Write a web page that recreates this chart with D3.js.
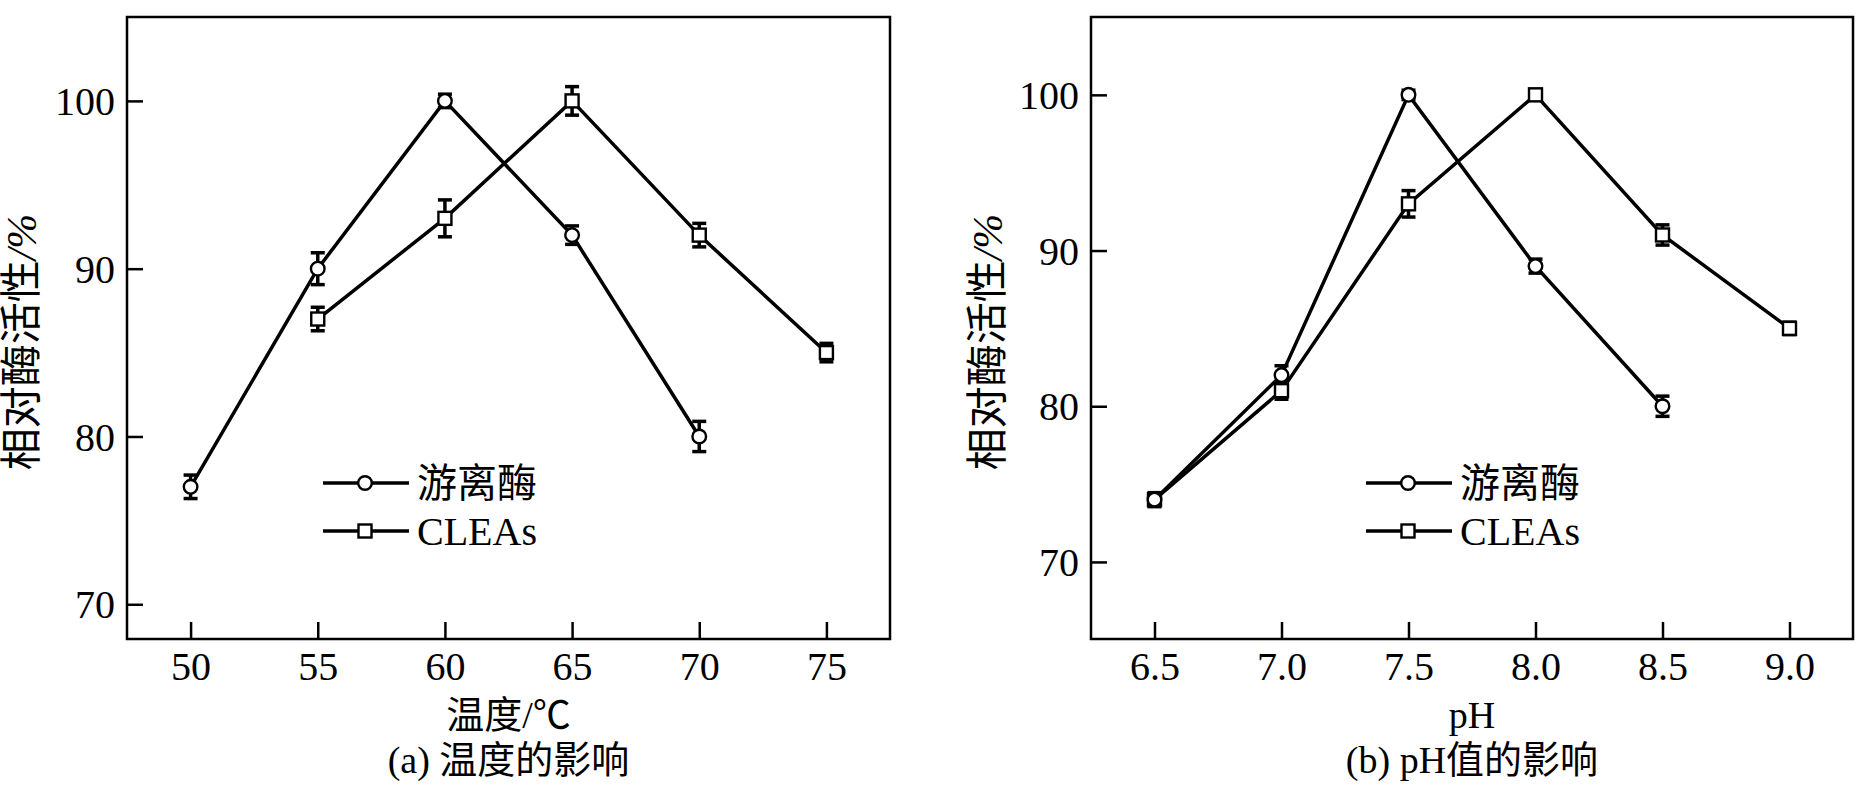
<!DOCTYPE html>
<html lang="zh">
<head>
<meta charset="UTF-8"/>
<title>温度和pH值的影响</title>
<script src="https://d3js.org/d3.v7.min.js"></script>
<style>
  body { margin: 0; background: #fff; }
  text { font-family: "Liberation Serif", "Noto Sans CJK SC", serif; fill: #000; }
</style>
</head>
<body>
<script>
// data
var yTicks = [70, 80, 90, 100];

// (a) temperature
var tempTicks = [50, 55, 60, 65, 70, 75];
var freeTempX = [50, 55, 60, 65, 70];
var freeTempY = [77, 90, 100, 92, 80];
var freeTempErr = [0.7, 0.95, 0.4, 0.55, 0.9];
var cleaTempX = [55, 60, 65, 70, 75];
var cleaTempY = [87, 93, 100, 92, 85];
var cleaTempErr = [0.7, 1.1, 0.85, 0.7, 0.55];

// (b) pH
var phTicks = [6.5, 7.0, 7.5, 8.0, 8.5, 9.0];
var freePhX = [6.5, 7.0, 7.5, 8.0, 8.5];
var freePhY = [74, 82, 100, 89, 80];
var freePhErr = [0.35, 0.6, 0.3, 0.45, 0.65];
var cleaPhX = [6.5, 7.0, 7.5, 8.0, 8.5, 9.0];
var cleaPhY = [74, 81, 93, 100, 91, 85];
var cleaPhErr = [0.45, 0.55, 0.85, 0.35, 0.65, 0.4];

var seriesNames = ["游离酶", "CLEAs"];

var w = 1856, h = 800;
var svg = d3.select("body").append("svg")
    .attr("width", w)
    .attr("height", h);

function zip(xs, ys, es) {
    return xs.map(function (x, i) { return { x: x, y: ys[i], e: es[i] }; });
}

function drawPanel(p) {
    var x = d3.scaleLinear().domain(p.xDomain).range([p.left, p.right]);
    var y = d3.scaleLinear().domain(p.yDomain).range([p.bottom, p.top]);
    var g = svg.append("g");

    // axes, ticks point inward
    var xa = g.append("g")
        .attr("transform", "translate(0," + p.bottom + ")")
        .call(d3.axisBottom(x).tickValues(p.xTicks).tickSize(-17).tickFormat(p.fmt));
    xa.select(".domain").remove();
    xa.selectAll("line").attr("stroke", "#000").attr("stroke-width", 2.5);
    xa.selectAll("text").attr("y", 41).attr("dy", 0)
        .style("font-size", "40px");

    var ya = g.append("g")
        .attr("transform", "translate(" + p.left + ",0)")
        .call(d3.axisLeft(y).tickValues(yTicks).tickSize(-16));
    ya.select(".domain").remove();
    ya.selectAll("line").attr("stroke", "#000").attr("stroke-width", 2.5);
    ya.selectAll("text").attr("x", -12).attr("dy", "0.34em")
        .style("font-size", "40px");

    g.append("rect")
        .attr("x", p.left).attr("y", p.top)
        .attr("width", p.right - p.left).attr("height", p.bottom - p.top)
        .attr("fill", "none").attr("stroke", "#000").attr("stroke-width", 2.5);

    var line = d3.line()
        .x(function (d) { return x(d.x); })
        .y(function (d) { return y(d.y); });

    var sets = [p.free, p.clea];
    sets.forEach(function (data) {
        g.append("path")
            .datum(data)
            .attr("d", line)
            .attr("fill", "none")
            .attr("stroke", "#000")
            .attr("stroke-width", 3.5);
    });

    // error bars
    sets.forEach(function (data) {
        var eb = g.append("g").selectAll("g").data(data).enter().append("g")
            .attr("stroke", "#000").attr("stroke-width", 3.5);
        eb.append("line")
            .attr("x1", function (d) { return x(d.x); })
            .attr("x2", function (d) { return x(d.x); })
            .attr("y1", function (d) { return y(d.y - d.e); })
            .attr("y2", function (d) { return y(d.y + d.e); });
        eb.append("line")
            .attr("x1", function (d) { return x(d.x) - 7; })
            .attr("x2", function (d) { return x(d.x) + 7; })
            .attr("y1", function (d) { return y(d.y + d.e); })
            .attr("y2", function (d) { return y(d.y + d.e); });
        eb.append("line")
            .attr("x1", function (d) { return x(d.x) - 7; })
            .attr("x2", function (d) { return x(d.x) + 7; })
            .attr("y1", function (d) { return y(d.y - d.e); })
            .attr("y2", function (d) { return y(d.y - d.e); });
    });

    // markers
    g.append("g").selectAll("rect").data(p.clea).enter().append("rect")
        .attr("x", function (d) { return x(d.x) - 6.5; })
        .attr("y", function (d) { return y(d.y) - 6.5; })
        .attr("width", 13).attr("height", 13)
        .attr("fill", "#fff").attr("stroke", "#000").attr("stroke-width", 2.4);
    g.append("g").selectAll("circle").data(p.free).enter().append("circle")
        .attr("cx", function (d) { return x(d.x); })
        .attr("cy", function (d) { return y(d.y); })
        .attr("r", 6.8)
        .attr("fill", "#fff").attr("stroke", "#000").attr("stroke-width", 2.4);

    // legend
    var lg = g.append("g");
    var rows = [p.legY, p.legY + 48];
    rows.forEach(function (ry, i) {
        lg.append("line")
            .attr("x1", p.legX).attr("x2", p.legX + 86)
            .attr("y1", ry).attr("y2", ry)
            .attr("stroke", "#000").attr("stroke-width", 3.5);
        if (i === 0) {
            lg.append("circle").attr("cx", p.legX + 42).attr("cy", ry).attr("r", 6.8)
                .attr("fill", "#fff").attr("stroke", "#000").attr("stroke-width", 2.4);
        } else {
            lg.append("rect").attr("x", p.legX + 35.5).attr("y", ry - 6.5)
                .attr("width", 13).attr("height", 13)
                .attr("fill", "#fff").attr("stroke", "#000").attr("stroke-width", 2.4);
        }
        lg.append("text")
            .attr("x", p.legX + 94).attr("y", ry + 14)
            .style("font-size", "40px")
            .text(seriesNames[i]);
    });

    // titles
    var cx = (p.left + p.right) / 2;
    g.append("text")
        .attr("x", cx).attr("y", 728)
        .attr("text-anchor", "middle")
        .style("font-size", "38px")
        .text(p.xTitle);
    g.append("text")
        .attr("x", cx).attr("y", 773)
        .attr("text-anchor", "middle")
        .style("font-size", "38px")
        .text(p.caption);

    var yt = g.append("text")
        .attr("transform", "translate(" + p.yTitleX + ",342) rotate(-90)")
        .attr("text-anchor", "middle")
        .style("font-size", "42px");
    yt.append("tspan").text("相对酶活性");
    yt.append("tspan").style("font-style", "italic").text("/%");
}

drawPanel({
    left: 127, right: 890, top: 17, bottom: 639,
    xDomain: [47.5, 77.5], yDomain: [67.93, 105],
    xTicks: tempTicks, fmt: d3.format("d"),
    free: zip(freeTempX, freeTempY, freeTempErr),
    clea: zip(cleaTempX, cleaTempY, cleaTempErr),
    legX: 323, legY: 483,
    xTitle: "温度/℃", caption: "(a) 温度的影响",
    yTitleX: 36
});

drawPanel({
    left: 1091, right: 1853, top: 17, bottom: 639,
    xDomain: [6.25, 9.25], yDomain: [65.05, 105],
    xTicks: phTicks, fmt: d3.format(".1f"),
    free: zip(freePhX, freePhY, freePhErr),
    clea: zip(cleaPhX, cleaPhY, cleaPhErr),
    legX: 1366, legY: 483,
    xTitle: "pH", caption: "(b) pH值的影响",
    yTitleX: 1002
});
</script>
</body>
</html>
